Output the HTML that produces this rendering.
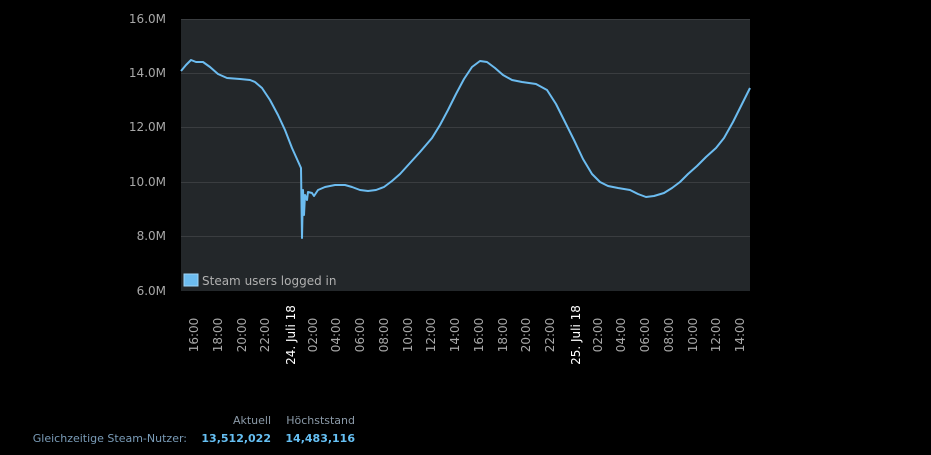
<!DOCTYPE html>
<html><head><meta charset="utf-8"><style>
body{margin:0;background:#000;width:931px;height:455px;overflow:hidden;font-family:"DejaVu Sans",sans-serif}
</style></head><body>
<svg width="931" height="455" style="position:absolute;left:0;top:0" font-family="DejaVu Sans, sans-serif">
<rect x="181" y="19" width="569" height="272" fill="#23272a"/>
<g stroke="#3a3d40" stroke-width="1">
<line x1="181" y1="19.5" x2="750" y2="19.5"/><line x1="181" y1="73.5" x2="750" y2="73.5"/>
<line x1="181" y1="127.5" x2="750" y2="127.5"/><line x1="181" y1="182.5" x2="750" y2="182.5"/>
<line x1="181" y1="236.5" x2="750" y2="236.5"/>
</g>
<g fill="#a8a8a8" font-size="12" text-anchor="end">
<text x="166" y="23">16.0M</text><text x="166" y="77">14.0M</text><text x="166" y="131">12.0M</text>
<text x="166" y="186">10.0M</text><text x="166" y="240">8.0M</text><text x="166" y="295">6.0M</text>
</g>
<polyline fill="none" stroke="#6cbcf0" stroke-width="2" stroke-linejoin="round" points="181,71 186,65 191,60 196,62 203,62 210,67 218,74 227,78 240,79 250,80 255,82 262,88 270,100 278,115 285,130 292,148 301,168 302,238 303,190 304,215 305,195 307,200 308,192 312,193 314,196 318,190 325,187 335,185 345,185 352,187 360,190 368,191 376,190 384,187 392,181 400,174 410,163 420,152 432,138 440,125 448,110 456,94 464,79 472,67 480,61 487,62 495,68 503,75 512,80 522,82 536,84 547,90 556,104 565,122 574,140 583,159 592,174 600,182 608,186 618,188 630,190 638,194 646,197 654,196 664,193 672,188 680,182 688,174 697,166 706,157 716,148 724,138 733,122 742,104 750,88"/>
<rect x="184" y="274" width="14" height="12" fill="#6cbcf0" stroke="#9fd5f8" stroke-width="1"/>
<text x="202" y="285" fill="#b0b0b0" font-size="12">Steam users logged in</text>
<g fill="#a8a8a8" font-size="12" text-anchor="middle">
<text transform="translate(198,335) rotate(-90)">16:00</text>
<text transform="translate(222,335) rotate(-90)">18:00</text>
<text transform="translate(246,335) rotate(-90)">20:00</text>
<text transform="translate(269,335) rotate(-90)">22:00</text>
<text transform="translate(295,335) rotate(-90)" fill="#fff">24. Juli 18</text>
<text transform="translate(317,335) rotate(-90)">02:00</text>
<text transform="translate(340,335) rotate(-90)">04:00</text>
<text transform="translate(364,335) rotate(-90)">06:00</text>
<text transform="translate(388,335) rotate(-90)">08:00</text>
<text transform="translate(412,335) rotate(-90)">10:00</text>
<text transform="translate(435,335) rotate(-90)">12:00</text>
<text transform="translate(459,335) rotate(-90)">14:00</text>
<text transform="translate(483,335) rotate(-90)">16:00</text>
<text transform="translate(507,335) rotate(-90)">18:00</text>
<text transform="translate(530,335) rotate(-90)">20:00</text>
<text transform="translate(554,335) rotate(-90)">22:00</text>
<text transform="translate(580,335) rotate(-90)" fill="#fff">25. Juli 18</text>
<text transform="translate(602,335) rotate(-90)">02:00</text>
<text transform="translate(625,335) rotate(-90)">04:00</text>
<text transform="translate(649,335) rotate(-90)">06:00</text>
<text transform="translate(673,335) rotate(-90)">08:00</text>
<text transform="translate(697,335) rotate(-90)">10:00</text>
<text transform="translate(720,335) rotate(-90)">12:00</text>
<text transform="translate(744,335) rotate(-90)">14:00</text>
</g>
<g font-size="11">
<text x="271" y="424" fill="#8b9aa8" text-anchor="end">Aktuell</text>
<text x="355" y="424" fill="#8b9aa8" text-anchor="end">Höchststand</text>
<text x="187" y="442" fill="#7a9cb8" text-anchor="end">Gleichzeitige Steam-Nutzer:</text>
<text x="271" y="442" fill="#66c0f4" font-weight="bold" text-anchor="end">13,512,022</text>
<text x="355" y="442" fill="#66c0f4" font-weight="bold" text-anchor="end">14,483,116</text>
</g>
</svg>
</body></html>
